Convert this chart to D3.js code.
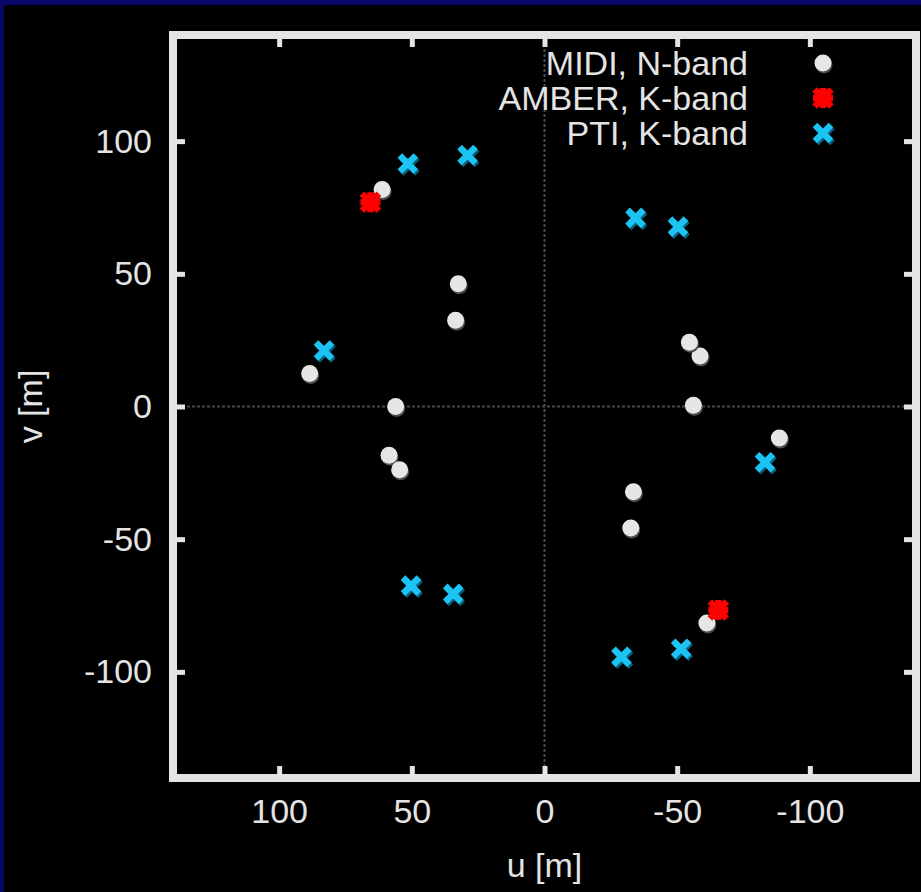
<!DOCTYPE html>
<html><head><meta charset="utf-8">
<script src="https://cdn.jsdelivr.net/npm/d3@7"></script>
<style>
html,body{margin:0;padding:0;background:#000;}
svg{display:block;}
text{font-family:"Liberation Sans",Arial,sans-serif;}
</style></head>
<body>
<script>
// ---- data (u, v in metres) ----
const midiPoints = [
  [61.2, 81.8], [32.5, 46.3], [33.5, 32.5], [88.5, 12.4], [56.1, 0.0],
  [58.6, -18.4], [54.6, -23.8],
  [-61.2, -81.6], [-32.5, -45.8], [-33.5, -32.1], [-88.5, -11.9], [-56.1, 0.5],
  [-58.6, 19.0], [-54.6, 24.2]
];
const amberPoints = [[65.6, 77.0], [-65.5, -76.7]];
const ptiPoints = [
  [51.5, 91.6], [29.0, 94.8], [83.1, 21.1], [50.3, -67.5], [34.4, -70.6],
  [-51.5, -91.3], [-29.0, -94.3], [-83.1, -21.0], [-50.3, 67.8], [-34.3, 71.1]
];
const tickValues = [100, 50, 0, -50, -100];
const legendLabels = ["MIDI, N-band", "AMBER, K-band", "PTI, K-band"];
const xLabel = "u [m]", yLabel = "v [m]";

const W = 921, H = 892;
const L = 173, R = 916, T = 35, B = 778;
const x = d3.scaleLinear().domain([140, -140]).range([L, R]);
const y = d3.scaleLinear().domain([-140, 140]).range([B, T]);

const svg = d3.select("body").append("svg").attr("width", W).attr("height", H);
svg.append("rect").attr("width", W).attr("height", H).attr("fill", "#07076a");
svg.append("rect").attr("x", 4).attr("y", 5).attr("width", W - 4).attr("height", H - 5).attr("fill", "#000");

const LIGHT = "#e4e4e4";
const FS = 34;
const fmt = d => String(d);

// zero lines
svg.append("line").attr("x1", x(0)).attr("x2", x(0)).attr("y1", T + 4).attr("y2", B - 4)
  .attr("stroke", "#4a4a4a").attr("stroke-width", 2).attr("stroke-dasharray", "3,2");
svg.append("line").attr("y1", y(0)).attr("y2", y(0)).attr("x1", L + 4).attr("x2", R - 4)
  .attr("stroke", "#4a4a4a").attr("stroke-width", 2).attr("stroke-dasharray", "3,2");

// axes (ticks inward)
function styleAxis(g, labels) {
  g.select(".domain").remove();
  g.selectAll(".tick line").attr("stroke", LIGHT).attr("stroke-width", 5);
  if (!labels) g.selectAll(".tick text").remove();
  else g.selectAll(".tick text").attr("fill", LIGHT).attr("font-size", FS)
        .attr("font-family", "Liberation Sans, Arial, sans-serif");
}
svg.append("g").attr("transform", `translate(0,${B})`)
  .call(d3.axisBottom(x).tickValues(tickValues).tickSize(-12).tickPadding(21).tickFormat(fmt))
  .call(g => styleAxis(g, true));
svg.append("g").attr("transform", `translate(0,${T})`)
  .call(d3.axisTop(x).tickValues(tickValues).tickSize(-12).tickFormat(""))
  .call(g => styleAxis(g, false));
svg.append("g").attr("transform", `translate(${L},0)`)
  .call(d3.axisLeft(y).tickValues(tickValues).tickSize(-12).tickPadding(21).tickFormat(fmt))
  .call(g => styleAxis(g, true));
svg.append("g").attr("transform", `translate(${R},0)`)
  .call(d3.axisRight(y).tickValues(tickValues).tickSize(-12).tickFormat(""))
  .call(g => styleAxis(g, false));

// frame
svg.append("rect").attr("x", L).attr("y", T).attr("width", R - L).attr("height", B - T)
  .attr("fill", "none").attr("stroke", LIGHT).attr("stroke-width", 8);

// marker helpers
function drawCircle(g, cx, cy) {
  g.append("circle").attr("cx", cx + 1).attr("cy", cy + 2).attr("r", 8.5).attr("fill", "#505050");
  g.append("circle").attr("cx", cx).attr("cy", cy).attr("r", 8.5).attr("fill", "#e6e6e6");
}
function xPath(cx, cy, s) {
  return `M${cx - s},${cy - s}L${cx + s},${cy + s}M${cx - s},${cy + s}L${cx + s},${cy - s}`;
}
function plusPath(cx, cy, s) {
  return `M${cx - s},${cy}L${cx + s},${cy}M${cx},${cy - s}L${cx},${cy + s}`;
}
function drawCross(g, cx, cy) {
  g.append("path").attr("d", xPath(cx + 1.5, cy + 2, 8)).attr("stroke", "#0b5f78").attr("stroke-width", 6.5).attr("fill", "none");
  g.append("path").attr("d", xPath(cx, cy, 8)).attr("stroke", "#1cc4f4").attr("stroke-width", 6.5).attr("fill", "none");
}
function drawStar(g, cx, cy) {
  g.append("path").attr("d", xPath(cx, cy, 8.5)).attr("stroke", "#ff0000").attr("stroke-width", 6.5).attr("fill", "none");
  g.append("path").attr("d", plusPath(cx, cy, 10)).attr("stroke", "#ff0000").attr("stroke-width", 6.5).attr("fill", "none");
}

const marks = svg.append("g");
midiPoints.forEach(p => drawCircle(marks, x(p[0]), y(p[1])));
ptiPoints.forEach(p => drawCross(marks, x(p[0]), y(p[1])));
amberPoints.forEach(p => drawStar(marks, x(p[0]), y(p[1])));

// legend
const leg = svg.append("g");
const legY = [63, 98, 133];
const drawers = [drawCircle, drawStar, drawCross];
legendLabels.forEach((t, i) => {
  leg.append("text").attr("x", 748).attr("y", legY[i]).attr("dy", "0.36em")
    .attr("text-anchor", "end").attr("fill", LIGHT).attr("font-size", FS).text(t);
  drawers[i](leg, 823, legY[i]);
});

// axis titles
svg.append("text").attr("x", x(0)).attr("y", 877).attr("text-anchor", "middle")
  .attr("fill", LIGHT).attr("font-size", FS).text(xLabel);
svg.append("text").attr("transform", `translate(42,${y(0)}) rotate(-90)`).attr("text-anchor", "middle")
  .attr("fill", LIGHT).attr("font-size", FS).text(yLabel);
</script>
</body></html>
